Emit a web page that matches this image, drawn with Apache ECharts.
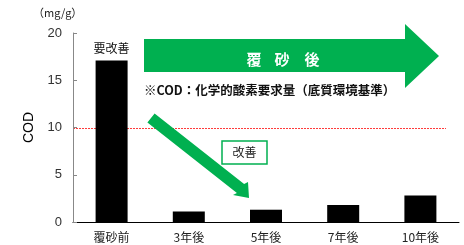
<!DOCTYPE html>
<html>
<head>
<meta charset="utf-8">
<script src="https://cdn.jsdelivr.net/npm/echarts@6/dist/echarts.min.js"></script>
<style>
  html, body { margin: 0; padding: 0; background: #fff; }
  #chart { width: 464px; height: 245px; }
</style>
</head>
<body>
<div id="chart"></div>
<script>
var categories = ['覆砂前', '3年後', '5年後', '7年後', '10年後'];
var codValues = [17.1, 1.1, 1.3, 1.8, 2.8];
var yTicks = [0, 5, 10, 15, 20];
var standardValue = 10;

var green = '#00b050';
var red = '#ff3b3b';
var jp = '"Noto Sans CJK JP", "Liberation Sans", sans-serif';

var myChart = echarts.init(document.getElementById('chart'));

var option = {
    animation: false,
    grid: { left: 73, right: 5, top: 33, bottom: 23 },
    xAxis: {
        type: 'category',
        data: categories,
        axisLine: { lineStyle: { color: '#000', width: 1 } },
        axisTick: { inside: true, length: 4, lineStyle: { color: '#555' } },
        axisLabel: { color: '#222', fontSize: 12, fontFamily: jp, margin: 9 }
    },
    yAxis: {
        type: 'value',
        min: yTicks[0],
        max: yTicks[yTicks.length - 1],
        interval: 5,
        name: 'COD',
        nameLocation: 'middle',
        nameRotate: 90,
        nameGap: 36,
        nameTextStyle: { color: '#000', fontSize: 14, fontFamily: '"Liberation Sans", sans-serif' },
        axisLine: { show: true, lineStyle: { color: '#888' } },
        axisTick: { show: true, inside: true, length: 4, lineStyle: { color: '#888' } },
        axisLabel: { color: '#333', fontSize: 13, fontFamily: '"Liberation Sans", sans-serif', margin: 11 },
        splitLine: { show: false }
    },
    series: [{
        type: 'bar',
        z: 5,
        data: codValues,
        barWidth: 32,
        itemStyle: { color: '#000' },
        label: {
            show: true,
            position: 'top',
            distance: 6,
            fontSize: 12,
            fontFamily: jp,
            color: '#111',
            formatter: function (p) { return p.dataIndex === 0 ? '要改善' : ''; }
        }
    }],
    graphic: [
        {
            type: 'text',
            left: 33, top: 7,
            style: { text: '（mg/g）', fontSize: 11, fontFamily: jp, fill: '#222' }
        },
        {
            type: 'polygon',
            shape: { points: [[144, 39], [405, 39], [405, 24], [439, 56], [405, 88], [405, 72], [144, 72]] },
            style: { fill: green }
        },
        { type: 'text', x: 254, y: 59, style: { text: '覆', fontSize: 15, fontWeight: 'bold', fontFamily: jp, fill: '#fff', align: 'center', verticalAlign: 'middle' } },
        { type: 'text', x: 282, y: 59, style: { text: '砂', fontSize: 15, fontWeight: 'bold', fontFamily: jp, fill: '#fff', align: 'center', verticalAlign: 'middle' } },
        { type: 'text', x: 312, y: 59, style: { text: '後', fontSize: 15, fontWeight: 'bold', fontFamily: jp, fill: '#fff', align: 'center', verticalAlign: 'middle' } },
        {
            type: 'text',
            x: 144, y: 90,
            style: {
                text: '※COD：化学的酸素要求量（底質環境基準）', fontSize: 12.5, fontWeight: 'bold', fontFamily: jp,
                fill: '#111', verticalAlign: 'middle'
            }
        },
        {
            type: 'polygon',
            z: 10,
            shape: { points: [[147.4, 122.4], [154.6, 113.6], [244.1, 184.1], [248, 182], [249, 198], [233, 195], [236.9, 192.9]] },
            style: { fill: green }
        },
        {
            type: 'rect',
            z: 10,
            shape: { x: 222, y: 141, width: 45, height: 23 },
            style: { fill: '#fff', stroke: green, lineWidth: 1.5 }
        },
        {
            type: 'text',
            z: 11,
            x: 244.5, y: 152.5,
            style: {
                text: '改善', fontSize: 12, fontFamily: jp,
                fill: '#222', align: 'center', verticalAlign: 'middle'
            }
        }
    ]
};

myChart.setOption(option);

// standard line (基準値), placed through the y axis scale, drawn behind the bars
var yStd = Math.round(myChart.convertToPixel({ yAxisIndex: 0 }, standardValue)) + 0.5;
myChart.setOption({
    graphic: [{
        id: 'stdLine',
        type: 'line',
        z: 0,
        shape: { x1: 73, y1: yStd, x2: 446, y2: yStd },
        style: { stroke: red, lineWidth: 1, lineDash: [2, 1] }
    }]
});
</script>
</body>
</html>
